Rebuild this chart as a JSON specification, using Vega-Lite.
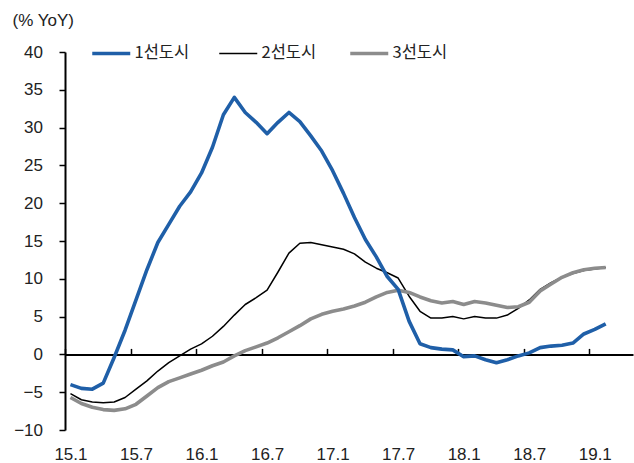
{
  "$schema": "https://vega.github.io/schema/vega-lite/v6.json",
  "autosize": "none",
  "width": 568,
  "height": 378,
  "padding": {"left": 65, "top": 52, "right": 1, "bottom": 33},
  "background": "white",
  "config": {"view": {"stroke": null}, "font": "Liberation Sans"},
  "data": {"values": [
    {"m":"15.1","1선도시":-4.0,"2선도시":-5.2,"3선도시":-5.7},
    {"m":"15.2","1선도시":-4.5,"2선도시":-6.0,"3선도시":-6.5},
    {"m":"15.3","1선도시":-4.6,"2선도시":-6.3,"3선도시":-7.0},
    {"m":"15.4","1선도시":-3.8,"2선도시":-6.4,"3선도시":-7.3},
    {"m":"15.5","1선도시":-0.4,"2선도시":-6.3,"3선도시":-7.4},
    {"m":"15.6","1선도시":3.2,"2선도시":-5.7,"3선도시":-7.2},
    {"m":"15.7","1선도시":7.2,"2선도시":-4.6,"3선도시":-6.6},
    {"m":"15.8","1선도시":11.2,"2선도시":-3.5,"3선도시":-5.5},
    {"m":"15.9","1선도시":14.8,"2선도시":-2.2,"3선도시":-4.4},
    {"m":"15.10","1선도시":17.2,"2선도시":-1.1,"3선도시":-3.6},
    {"m":"15.11","1선도시":19.6,"2선도시":-0.2,"3선도시":-3.1},
    {"m":"15.12","1선도시":21.5,"2선도시":0.7,"3선도시":-2.6},
    {"m":"16.1","1선도시":24.0,"2선도시":1.4,"3선도시":-2.1},
    {"m":"16.2","1선도시":27.4,"2선도시":2.4,"3선도시":-1.5},
    {"m":"16.3","1선도시":31.7,"2선도시":3.7,"3선도시":-1.0},
    {"m":"16.4","1선도시":34.0,"2선도시":5.2,"3선도시":-0.2},
    {"m":"16.5","1선도시":32.0,"2선도시":6.6,"3선도시":0.5},
    {"m":"16.6","1선도시":30.7,"2선도시":7.5,"3선도시":1.0},
    {"m":"16.7","1선도시":29.2,"2선도시":8.5,"3선도시":1.5},
    {"m":"16.8","1선도시":30.7,"2선도시":10.9,"3선도시":2.2},
    {"m":"16.9","1선도시":32.0,"2선도시":13.4,"3선도시":3.0},
    {"m":"16.10","1선도시":30.8,"2선도시":14.7,"3선도시":3.8},
    {"m":"16.11","1선도시":28.9,"2선도시":14.8,"3선도시":4.7},
    {"m":"16.12","1선도시":26.9,"2선도시":14.5,"3선도시":5.3},
    {"m":"17.1","1선도시":24.3,"2선도시":14.2,"3선도시":5.7},
    {"m":"17.2","1선도시":21.3,"2선도시":13.9,"3선도시":6.0},
    {"m":"17.3","1선도시":18.1,"2선도시":13.3,"3선도시":6.4},
    {"m":"17.4","1선도시":15.2,"2선도시":12.2,"3선도시":6.9},
    {"m":"17.5","1선도시":12.9,"2선도시":11.4,"3선도시":7.6},
    {"m":"17.6","1선도시":10.3,"2선도시":10.8,"3선도시":8.2},
    {"m":"17.7","1선도시":8.6,"2선도시":10.1,"3선도시":8.5},
    {"m":"17.8","1선도시":4.4,"2선도시":7.7,"3선도시":8.2},
    {"m":"17.9","1선도시":1.4,"2선도시":5.7,"3선도시":7.6},
    {"m":"17.10","1선도시":0.9,"2선도시":4.8,"3선도시":7.1},
    {"m":"17.11","1선도시":0.7,"2선도시":4.8,"3선도시":6.8},
    {"m":"17.12","1선도시":0.6,"2선도시":5.0,"3선도시":7.0},
    {"m":"18.1","1선도시":-0.3,"2선도시":4.7,"3선도시":6.6},
    {"m":"18.2","1선도시":-0.2,"2선도시":5.0,"3선도시":7.0},
    {"m":"18.3","1선도시":-0.7,"2선도시":4.8,"3선도시":6.8},
    {"m":"18.4","1선도시":-1.1,"2선도시":4.8,"3선도시":6.5},
    {"m":"18.5","1선도시":-0.7,"2선도시":5.2,"3선도시":6.2},
    {"m":"18.6","1선도시":-0.2,"2선도시":6.1,"3선도시":6.3},
    {"m":"18.7","1선도시":0.2,"2선도시":7.2,"3선도시":6.9},
    {"m":"18.8","1선도시":0.9,"2선도시":8.6,"3선도시":8.4},
    {"m":"18.9","1선도시":1.1,"2선도시":9.5,"3선도시":9.3},
    {"m":"18.10","1선도시":1.2,"2선도시":10.2,"3선도시":10.2},
    {"m":"18.11","1선도시":1.5,"2선도시":10.7,"3선도시":10.8},
    {"m":"18.12","1선도시":2.7,"2선도시":11.1,"3선도시":11.2},
    {"m":"19.1","1선도시":3.3,"2선도시":11.3,"3선도시":11.4},
    {"m":"19.2","1선도시":4.05,"2선도시":11.5,"3선도시":11.5}
  ]},
  "transform": [
    {"fold": ["2선도시", "3선도시", "1선도시"], "as": ["series", "value"]}
  ],
  "mark": {"type": "line", "strokeJoin": "round"},
  "encoding": {
    "x": {
      "field": "m",
      "type": "ordinal",
      "sort": null,
      "scale": {
        "type": "point",
        "padding": 0.5,
        "domain": ["15.1","15.2","15.3","15.4","15.5","15.6","15.7","15.8","15.9","15.10","15.11","15.12",
                   "16.1","16.2","16.3","16.4","16.5","16.6","16.7","16.8","16.9","16.10","16.11","16.12",
                   "17.1","17.2","17.3","17.4","17.5","17.6","17.7","17.8","17.9","17.10","17.11","17.12",
                   "18.1","18.2","18.3","18.4","18.5","18.6","18.7","18.8","18.9","18.10","18.11","18.12",
                   "19.1","19.2","19.3","19.4"]
      },
      "axis": {
        "title": null,
        "values": ["15.1","15.7","16.1","16.7","17.1","17.7","18.1","18.7","19.1"],
        "offset": -75.6,
        "domainColor": "black",
        "domainWidth": 2,
        "ticks": true,
        "tickColor": "black",
        "tickWidth": 1.5,
        "tickSize": -6,
        "tickOffset": -5.46,
        "labelOffset": 5.46,
        "labelPadding": 98,
        "labelAngle": 0,
        "labelFontSize": 17,
        "labelColor": "#222222",
        "grid": false
      }
    },
    "y": {
      "field": "value",
      "type": "quantitative",
      "scale": {"domain": [-10, 40], "nice": false, "zero": false},
      "axis": {
        "values": [-10, -5, 0, 5, 10, 15, 20, 25, 30, 35, 40],
        "grid": false,
        "domainColor": "black",
        "domainWidth": 2,
        "ticks": true,
        "tickColor": "black",
        "tickWidth": 1.5,
        "tickSize": 6,
        "labelPadding": 16.5,
        "labelFontSize": 17,
        "labelColor": "#222222",
        "title": "(% YoY)",
        "titleAngle": 0,
        "titleAlign": "left",
        "titleBaseline": "middle",
        "titleX": -53,
        "titleY": -32,
        "titleFontSize": 17,
        "titleFontWeight": "normal",
        "titleColor": "#222222",
        "encode": {"ticks": {"update": {"x": {"value": 0}, "x2": {"value": 6}}}}
      }
    },
    "color": {
      "field": "series",
      "type": "nominal",
      "scale": {"domain": ["1선도시", "2선도시", "3선도시"], "range": ["#1f5fa8", "#000000", "#8c8c8c"]},
      "legend": {
        "title": null,
        "orient": "none",
        "legendX": 38,
        "legendY": -7,
        "direction": "horizontal",
        "symbolType": "stroke",
        "symbolSize": 1444,
        "symbolStrokeWidth": 3.5,
        "labelFont": "Noto Sans CJK KR",
        "labelFontSize": 16.5,
        "labelColor": "#222222",
        "labelOffset": 15,
        "columnPadding": 26,
        "encode": {
          "symbols": {"update": {"strokeWidth": {"signal": "datum.value === '2선도시' ? 1.5 : 3.5"}}}
        }
      }
    },
    "strokeWidth": {
      "condition": {"test": "datum.series === '2선도시'", "value": 1.5},
      "value": 3.6
    }
  }
}
